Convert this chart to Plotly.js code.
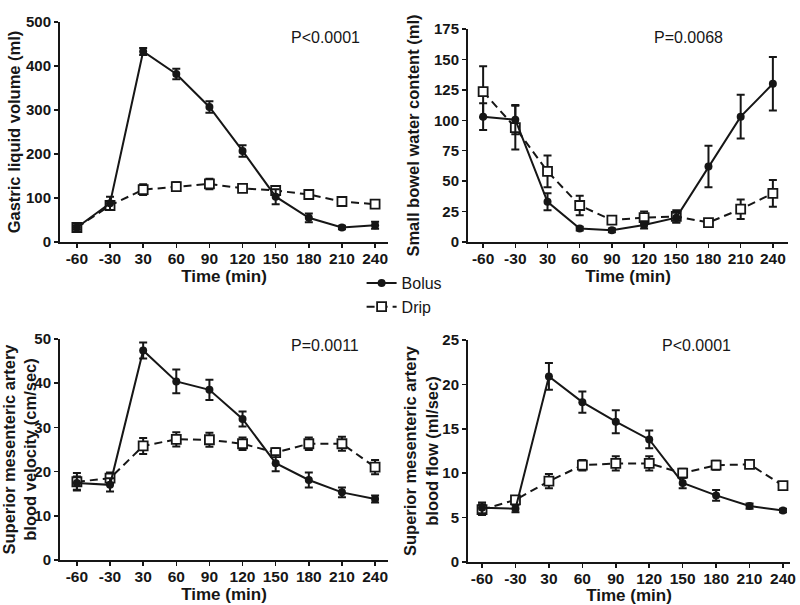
<!DOCTYPE html>
<html><head><meta charset="utf-8">
<script src="https://cdn.plot.ly/plotly-3.0.1.min.js"></script>
<style>body{margin:0;background:#fff}#c{width:800px;height:605px}</style>
</head><body><div id="c"></div>
<script>
var times = ['-60','-30','30','60','90','120','150','180','210','240'];

var gastricBolus = [33, 88, 433, 382, 307, 207, 103, 55, 33, 38];
var gastricBolusErr = [5, 15, 8, 12, 13, 13, 17, 10, 4, 8];
var gastricDrip = [33, 83, 119, 126, 132, 122, 117, 108, 92, 86];
var gastricDripErr = [6, 10, 12, 10, 12, 8, 8, 8, 8, 6];

var bowelBolus = [103, 100.5, 33, 11, 9.6, 14, 20, 62, 103, 130];
var bowelBolusErr = [11, 12, 7, 1.5, 1.5, 3, 4, 17, 18, 22];
var bowelDrip = [123.5, 94, 58, 30, 18, 20, 21, 16, 27, 40];
var bowelDripErr = [21, 18, 13, 8, 3, 5, 5, 2, 8, 11];

var velBolus = [17.4, 17, 47.4, 40.4, 38.5, 31.9, 21.9, 18.1, 15.3, 13.8];
var velBolusErr = [1.5, 1.5, 1.8, 2.7, 2.3, 1.7, 1.8, 1.7, 1.1, 0.8];
var velDrip = [17.7, 18.5, 25.8, 27.3, 27.2, 26.3, 24.3, 26.3, 26.3, 21];
var velDripErr = [2, 1.3, 1.8, 1.6, 1.6, 1.4, 1, 1.4, 1.6, 1.6];

var flowBolus = [6.1, 6.0, 20.9, 18.0, 15.8, 13.8, 8.9, 7.5, 6.3, 5.8];
var flowBolusErr = [0.6, 0.4, 1.5, 1.2, 1.3, 1.0, 0.6, 0.6, 0.3, 0.2];
var flowDrip = [5.9, 7.0, 9.1, 10.9, 11.1, 11.1, 10.0, 10.9, 11.0, 8.6];
var flowDripErr = [0.6, 0.4, 0.8, 0.6, 0.8, 0.8, 0.5, 0.5, 0.3, 0.4];

var pValues = ['P<0.0001', 'P=0.0068', 'P=0.0011', 'P<0.0001'];
var yTitles = ['Gastric liquid volume (ml)', 'Small bowel water content (ml)',
  'Superior mesenteric artery<br>blood velocity (cm/sec)', 'Superior mesenteric artery<br>blood flow (ml/sec)'];
var seriesNames = ['Bolus', 'Drip'];

var FONT = 'Liberation Sans, Arial, sans-serif';
var INK = '#161616';
function bolus(y, e, ax, show) {
  return {x: times, y: y, name: seriesNames[0], type: 'scatter', mode: 'lines+markers',
    xaxis: 'x' + ax, yaxis: 'y' + ax, showlegend: show, legendrank: 1,
    line: {color: INK, width: 2},
    marker: {symbol: 'circle', size: 8, color: INK},
    error_y: {type: 'data', array: e, visible: true, color: INK, thickness: 2, width: 4}};
}
function drip(y, e, ax, show) {
  return {x: times, y: y, name: seriesNames[1], type: 'scatter', mode: 'lines+markers',
    xaxis: 'x' + ax, yaxis: 'y' + ax, showlegend: show, legendrank: 2,
    line: {color: INK, width: 2, dash: '8px,5px'},
    marker: {symbol: 'square', size: 9, color: '#fff', line: {color: INK, width: 1.8}},
    error_y: {type: 'data', array: e, visible: true, color: INK, thickness: 2, width: 4}};
}
var data = [
  drip(gastricDrip, gastricDripErr, '', true), bolus(gastricBolus, gastricBolusErr, '', true),
  drip(bowelDrip, bowelDripErr, '2', false), bolus(bowelBolus, bowelBolusErr, '2', false),
  drip(velDrip, velDripErr, '3', false), bolus(velBolus, velBolusErr, '3', false),
  drip(flowDrip, flowDripErr, '4', false), bolus(flowBolus, flowBolusErr, '4', false)
];
function xax(dom, rng, anchor) {
  return {domain: dom, range: rng, type: 'category', anchor: anchor,
    showline: true, linewidth: 2, linecolor: INK, ticks: 'outside', ticklen: 4, tickwidth: 1.5,
    tickcolor: INK, showgrid: false, zeroline: false, ticklabelstandoff: -3,
    tickfont: {family: FONT, size: 15.5, color: INK, weight: 'bold'},
    title: {text: 'Time (min)', font: {family: FONT, size: 17, color: INK, weight: 'bold'}, standoff: 3}};
}
function yax(dom, rng, dt, title, anchor, standoff) {
  return {domain: dom, range: rng, dtick: dt, anchor: anchor,
    showline: true, linewidth: 2, linecolor: INK, ticks: 'outside', ticklen: 4, tickwidth: 1.5,
    tickcolor: INK, showgrid: false, zeroline: false,
    tickfont: {family: FONT, size: 15, color: INK, weight: 'bold'},
    title: {text: title, font: {family: FONT, size: 16.5, color: INK, weight: 'bold'}, standoff: standoff}};
}
var layout = {
  width: 800, height: 605, margin: {l: 0, r: 0, t: 0, b: 0},
  paper_bgcolor: '#fff', plot_bgcolor: '#fff',
  font: {family: FONT, color: INK},
  xaxis: xax([60/800, 388/800], [-0.51, 9.39], 'y'),
  yaxis: yax([0.6, 0.9636], [0, 500], 100, yTitles[0], 'x', 1),
  xaxis2: xax([468/800, 788/800], [-0.47, 9.47], 'y2'),
  yaxis2: yax([0.6, 0.952], [0, 175], 25, yTitles[1], 'x2', 10),
  xaxis3: xax([60/800, 388/800], [-0.51, 9.39], 'y3'),
  yaxis3: yax([0.0744, 0.4397], [0, 50], 10, yTitles[2], 'x3', -2),
  xaxis4: xax([468/800, 790/800], [-0.42, 9.21], 'y4'),
  yaxis4: yax([0.0711, 0.438], [0, 25], 5, yTitles[3], 'x4', 0),
  showlegend: true,
  legend: {x: 0.452, y: 1 - 266/605, xanchor: 'left', yanchor: 'top', traceorder: 'normal',
    font: {family: FONT, size: 16, color: INK}, itemwidth: 30, bgcolor: 'rgba(0,0,0,0)', tracegroupgap: 0},
  annotations: [
    {xref: 'paper', yref: 'paper', x: 325/800, y: 1 - 27/605, text: pValues[0], showarrow: false, font: {family: FONT, size: 16, color: INK}},
    {xref: 'paper', yref: 'paper', x: 725/800, y: 1 - 27/605, text: pValues[1], showarrow: false, font: {family: FONT, size: 16, color: INK}},
    {xref: 'paper', yref: 'paper', x: 325/800, y: 1 - 345/605, text: pValues[2], showarrow: false, font: {family: FONT, size: 16, color: INK}},
    {xref: 'paper', yref: 'paper', x: 733/800, y: 1 - 345/605, text: pValues[3], showarrow: false, font: {family: FONT, size: 16, color: INK}}
  ]
};
Plotly.newPlot('c', data, layout, {staticPlot: true});
</script></body></html>
